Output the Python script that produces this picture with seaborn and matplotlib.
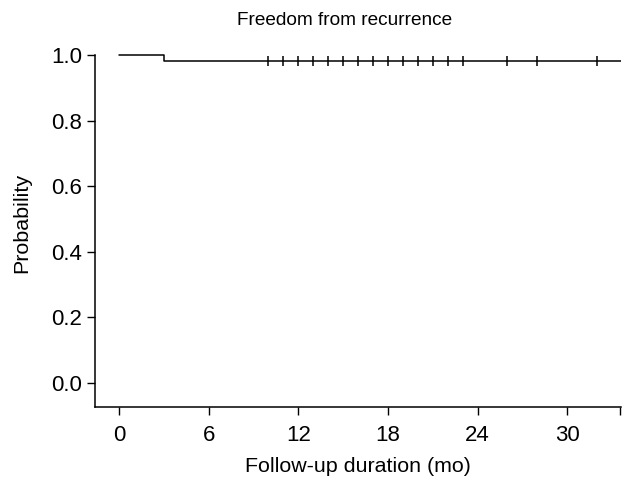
import numpy as np
import pandas as pd
import seaborn as sns
from matplotlib import pyplot as plt

# Kaplan-Meier steps
step_time = [0, 3, 33.6]
step_prob = [1.0, 0.982, 0.982]
# censored follow-ups (months)
censor_time = [10, 11, 12, 13, 14, 15, 16, 17, 18, 19, 20, 21, 22, 23, 26, 28, 32]
censor_prob = [0.982] * len(censor_time)

x_ticks = [0, 6, 12, 18, 24, 30]
y_ticks = [0.0, 0.2, 0.4, 0.6, 0.8, 1.0]

sns.set_style("ticks")
plt.rcParams['font.family'] = ['Liberation Sans', 'DejaVu Sans']
plt.rcParams['text.color'] = 'black'
plt.rcParams['axes.labelcolor'] = 'black'

steps = pd.DataFrame({'time': step_time, 'prob': step_prob})
cens = pd.DataFrame({'time': censor_time, 'prob': censor_prob})

fig = plt.figure(figsize=(6.25, 4.78), dpi=100)
ax = fig.add_axes([0.152, 0.1485, 0.8416, 0.7705])

sns.lineplot(data=steps, x='time', y='prob', drawstyle='steps-post', estimator=None,
             color='black', linewidth=1.1, ax=ax)
sns.scatterplot(data=cens, x='time', y='prob', marker='|', s=45, color='black',
                linewidth=1.1, ax=ax)

ax.set_xlim(-1.6, 33.6)
ax.set_ylim(-0.073, 1.05)
ax.spines['left'].set_bounds(-0.073, 1.0)
ax.spines['top'].set_visible(False)
ax.spines['right'].set_visible(False)
for sp in ['left', 'bottom']:
    ax.spines[sp].set_linewidth(1.1)
    ax.spines[sp].set_color('black')
ax.set_xticks(x_ticks)
ax.set_xticks([33.55], minor=True)  # little end tick on the x axis
ax.set_yticks(y_ticks)
ax.set_yticklabels(['%.1f' % v for v in y_ticks])
ax.tick_params(direction='out', length=6, width=1.0, labelsize=16, colors='black')
ax.tick_params(axis='x', which='minor', direction='out', length=6, width=1.0, colors='black')
ax.tick_params(axis='x', pad=7)

ax.set_xlabel('Follow-up duration (mo)', fontsize=15.4, labelpad=8, color='black')
ax.set_ylabel('Probability', fontsize=15.4, labelpad=14, color='black')
ax.set_title('Freedom from recurrence', fontsize=13.7, pad=10, x=0.475, color='black')

fig.savefig('out.png', dpi=100)
